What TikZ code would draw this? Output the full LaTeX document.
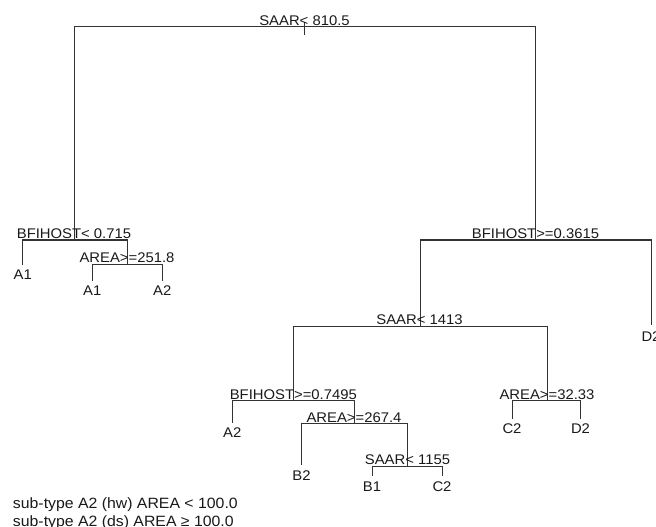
\documentclass[tikz,border=0pt]{standalone}
\usepackage{fontspec}
\setmainfont{Liberation Sans}[FakeStretch=1.06]
\begin{document}
\begin{tikzpicture}[x=0.75pt,y=-0.75pt,
  br/.style={draw=black!80,line width=0.75pt},
  split/.style={anchor=base,inner sep=0pt,text=black!90,font=\fontsize{10.5}{12}\selectfont},
  leaf/.style={anchor=base,inner sep=0pt,text=black!90,font=\fontsize{10.5}{12}\selectfont},
  note/.style={anchor=base west,inner sep=0pt,text=black!90,font=\fontsize{11.2}{13}\selectfont}]
\useasboundingbox (0,0) rectangle (656,527);
\clip (0,0) rectangle (656,527);
% node points
\coordinate (r) at (304,27);
\coordinate (n2) at (74,240);
\coordinate (a1) at (22.7,265);
\coordinate (n3) at (127,264);
\coordinate (a1b) at (92.3,281);
\coordinate (a2) at (162.3,281);
\coordinate (n4) at (535,240);
\coordinate (d2) at (651,325);
\coordinate (n5) at (420,326);
\coordinate (n6) at (293.3,400.5);
\coordinate (a2b) at (232.3,423);
\coordinate (n7) at (354,423.5);
\coordinate (b2) at (301.5,465);
\coordinate (n8) at (407,466);
\coordinate (b1) at (372,475.5);
\coordinate (c2) at (442,475.5);
\coordinate (n9) at (547,400.5);
\coordinate (c2b) at (512,419);
\coordinate (d2b) at (580.5,419);
\coordinate (tk1) at (304,22);
\coordinate (tk2) at (304,35);
% branches
\draw[br] (tk1) -- (tk2);
\draw[br] (r) -| (n2);
\draw[br] (r) -| (n4);
\draw[br] (n2) -| (a1);
\draw[br] (n2) -| (n3);
\draw[br] (n3) -| (a1b);
\draw[br] (n3) -| (a2);
\draw[br] (n4) -| (n5);
\draw[br] (n4) -| (d2);
\draw[br] (n5) -| (n6);
\draw[br] (n5) -| (n9);
\draw[br] (n6) -| (a2b);
\draw[br] (n6) -| (n7);
\draw[br] (n7) -| (b2);
\draw[br] (n7) -| (n8);
\draw[br] (n8) -| (b1);
\draw[br] (n8) -| (c2);
\draw[br] (n9) -| (c2b);
\draw[br] (n9) -| (d2b);
% split labels
\node[split] (t1) at (304.5,25.5) {SAAR< 810.5};
\node[split] (t2) at (74,238.5) {BFIHOST< 0.715};
\node[split] (t3) at (127,262.5) {AREA>=251.8};
\node[split] (t4) at (535.5,238.5) {BFIHOST>=0.3615};
\node[split] (t5) at (419.5,324.5) {SAAR< 1413};
\node[split] (t6) at (293.3,399) {BFIHOST>=0.7495};
\node[split] (t7) at (354,422) {AREA>=267.4};
\node[split] (t8) at (407.5,464.5) {SAAR< 1155};
\node[split] (t9) at (547,399) {AREA>=32.33};
% leaf labels
\node[leaf] (l1) at (22.7,279.5) {A1};
\node[leaf] (l2) at (92.3,295.5) {A1};
\node[leaf] (l3) at (162.3,295.5) {A2};
\node[leaf] (l4) at (651,341) {D2};
\node[leaf] (l5) at (232.3,437.5) {A2};
\node[leaf] (l6) at (301.5,480.5) {B2};
\node[leaf] (l7) at (372,491.5) {B1};
\node[leaf] (l8) at (442,491.5) {C2};
\node[leaf] (l9) at (512,433) {C2};
\node[leaf] (l10) at (580.5,433) {D2};
% notes
\node[note] (m1) at (12.7,508.5) {sub-type A2 (hw) AREA < 100.0};
\node[note] (m2) at (12.7,526.5) {sub-type A2 (ds) AREA ≥ 100.0};
\end{tikzpicture}
\end{document}
